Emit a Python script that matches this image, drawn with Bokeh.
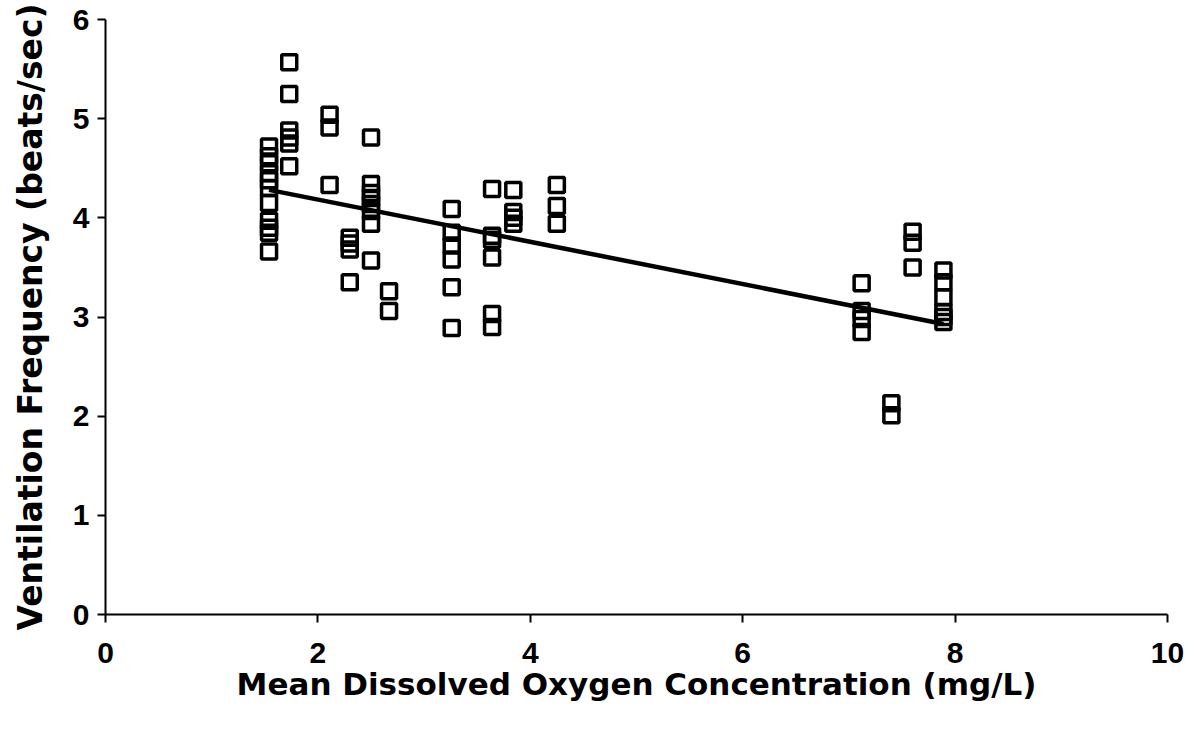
from bokeh.plotting import figure
from bokeh.models import Range1d, FixedTicker, ColumnDataSource
from bokeh.embed import file_html
from bokeh.resources import INLINE

# Mean dissolved oxygen (mg/L) per sampling group and ventilation frequency (beats/sec)
do_groups = [1.54, 1.73, 2.11, 2.30, 2.50, 2.67, 3.26, 3.64, 3.84, 4.25, 7.12, 7.40, 7.60, 7.89]
vent_by_group = [
    [4.72, 4.62, 4.55, 4.45, 4.38, 4.30, 4.15, 3.97, 3.90, 3.85, 3.66],
    [5.57, 5.25, 4.88, 4.81, 4.75, 4.52],
    [5.04, 4.91, 4.33],
    [3.80, 3.74, 3.68, 3.35],
    [4.81, 4.34, 4.25, 4.20, 4.14, 4.07, 3.94, 3.57],
    [3.26, 3.06],
    [4.09, 3.85, 3.72, 3.58, 3.30, 2.89],
    [4.29, 3.82, 3.78, 3.60, 3.03, 2.90],
    [4.28, 4.06, 4.00, 3.94],
    [4.33, 4.12, 3.94],
    [3.34, 3.06, 2.98, 2.85],
    [2.13, 2.01],
    [3.86, 3.75, 3.50],
    [3.47, 3.35, 3.20, 3.05, 3.00, 2.95],
]
# linear trend line: VF = intercept + slope * DO
trend_intercept = 4.61
trend_slope = -0.213
x_ticks = [0, 2, 4, 6, 8, 10]
y_ticks = [0, 1, 2, 3, 4, 5, 6]
x_title = "Mean Dissolved Oxygen Concentration (mg/L)"
y_title = "Ventilation Frequency (beats/sec)"

xs = [x for x, ys in zip(do_groups, vent_by_group) for _ in ys]
ys = [y for grp in vent_by_group for y in grp]
pts = ColumnDataSource(dict(x=xs, y=ys))

fit_x = [min(xs), max(xs)]
fit_y = [trend_intercept + trend_slope * v for v in fit_x]

TICK_FONT = "Liberation Sans"
TITLE_FONT = "DejaVu Sans"

p = figure(width=1200, height=733, output_backend="svg", toolbar_location=None,
           x_range=Range1d(0, 10), y_range=Range1d(0, 6),
           min_border_left=105, min_border_right=33, min_border_top=19, min_border_bottom=119)
p.outline_line_color = None
p.xgrid.visible = False
p.ygrid.visible = False
p.background_fill_color = "white"
p.border_fill_color = "white"

p.line(fit_x, fit_y, line_color="black", line_width=4.5)
p.scatter("x", "y", source=pts, marker="square", size=15,
          line_color="black", line_width=3.5, fill_alpha=0)

for ax, ticks in ((p.xaxis[0], x_ticks), (p.yaxis[0], y_ticks)):
    ax.ticker = FixedTicker(ticks=ticks)
    ax.minor_tick_line_color = None
    ax.major_tick_in = 0
    ax.major_tick_out = 8
    ax.major_tick_line_width = 2
    ax.axis_line_width = 2
    ax.axis_line_color = "black"
    ax.major_tick_line_color = "black"
    ax.major_label_text_font = TICK_FONT
    ax.major_label_text_font_style = "bold"
    ax.major_label_text_font_size = "30px"
    ax.major_label_text_color = "black"
    ax.axis_label_text_font = TITLE_FONT
    ax.axis_label_text_font_style = "bold"
    ax.axis_label_text_color = "black"

p.xaxis.axis_label = x_title
p.yaxis.axis_label = y_title
p.xaxis.axis_label_text_font_size = "31px"
p.yaxis.axis_label_text_font_size = "33px"
p.xaxis.major_label_standoff = 20
p.xaxis.axis_label_standoff = 0
p.yaxis.major_label_standoff = 8
p.yaxis.axis_label_standoff = 20

open("out.html", "w").write(file_html(p, INLINE))
